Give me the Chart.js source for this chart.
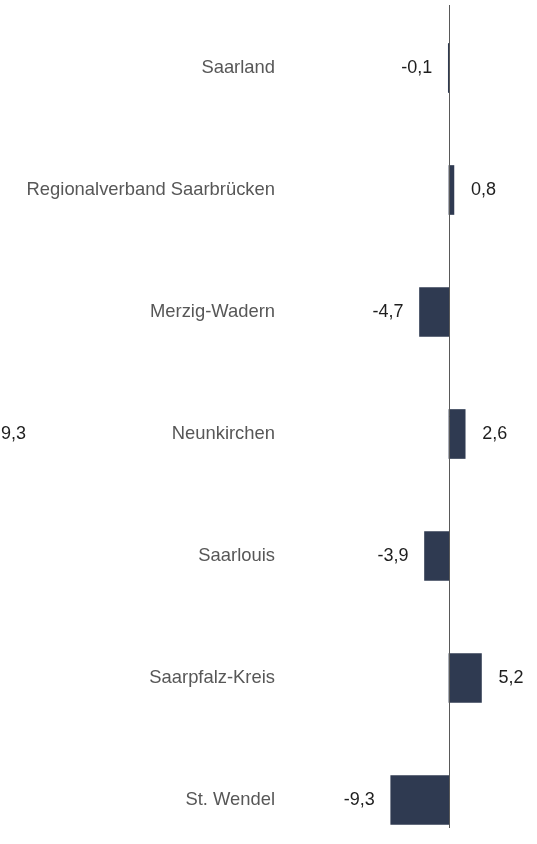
<!DOCTYPE html>
<html>
<head>
<meta charset="utf-8">
<script src="https://cdn.jsdelivr.net/npm/chart.js@4"></script>
<style>
  body { margin: 0; background: #fff; }
  #wrap { width: 537px; height: 844px; position: relative; }
</style>
</head>
<body>
<div id="wrap"><canvas id="graphCanvas"></canvas></div>
<script>
// Kreise im Saarland
const regions = ['Saarland', 'Regionalverband Saarbrücken', 'Merzig-Wadern', 'Neunkirchen',
                 'Saarlouis', 'Saarpfalz-Kreis', 'St. Wendel'];
const changes = [-0.1, 0.8, -4.7, 2.6, -3.9, 5.2, -9.3];
// loose label sitting at the left edge
const strayLabel = '9,3';
const strayRow = 3;

const labelColor = '#575757';
const valueColor = '#1e1e1e';
const barColor = '#2f3a51';
const fontFamily = 'Arial, "Liberation Sans", sans-serif';

function fmt(v) {
  return v.toFixed(1).replace('.', ',');
}

// zero line across the full height
const zeroLine = {
  id: 'zeroLine',
  afterDatasetsDraw(chart) {
    const ctx = chart.ctx;
    const x = Math.round(chart.scales.x.getPixelForValue(0)) + 0.5;
    ctx.save();
    ctx.strokeStyle = '#595959';
    ctx.lineWidth = 1;
    ctx.beginPath();
    ctx.moveTo(x, chart.chartArea.top - 63);
    ctx.lineTo(x, chart.chartArea.bottom + 28);
    ctx.stroke();
    ctx.restore();
  }
};

// value labels next to each bar end
const valueLabels = {
  id: 'valueLabels',
  afterDraw(chart) {
    const ctx = chart.ctx;
    const meta = chart.getDatasetMeta(0);
    ctx.save();
    ctx.font = '18px ' + fontFamily;
    ctx.fillStyle = valueColor;
    ctx.textBaseline = 'middle';
    meta.data.forEach((bar, i) => {
      const v = changes[i];
      if (v < 0) {
        ctx.textAlign = 'right';
        ctx.fillText(fmt(v), bar.x - 16, bar.y);
      } else {
        ctx.textAlign = 'left';
        ctx.fillText(fmt(v), bar.x + 17, bar.y);
      }
    });
    ctx.textAlign = 'left';
    ctx.fillText(strayLabel, 1, chart.scales.y.getPixelForValue(strayRow));
    ctx.restore();
  }
};

new Chart(document.getElementById('graphCanvas'), {
  type: 'bar',
  data: {
    labels: regions,
    datasets: [{
      data: changes,
      backgroundColor: barColor,
      barThickness: 49,
      clip: false
    }]
  },
  options: {
    indexAxis: 'y',
    responsive: true,
    maintainAspectRatio: false,
    animation: false,
    layout: { padding: { top: 68, bottom: 44, right: 13, left: 0 } },
    plugins: {
      legend: { display: false },
      tooltip: { enabled: false }
    },
    scales: {
      x: {
        display: false,
        min: -26.2,
        max: 12
      },
      y: {
        offset: false,
        grid: { display: false },
        border: { display: false },
        afterFit(scale) { scale.width = 285; },
        ticks: {
          padding: 2,
          color: labelColor,
          font: { size: 18.4, family: fontFamily }
        }
      }
    }
  },
  plugins: [zeroLine, valueLabels]
});
</script>
</body>
</html>
